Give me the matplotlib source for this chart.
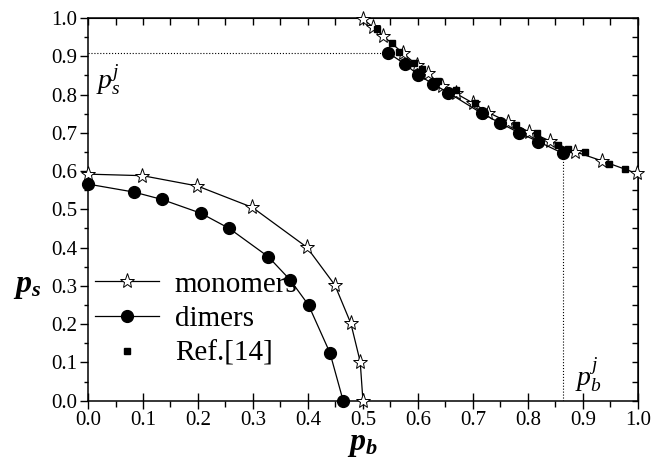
import numpy as np
import matplotlib.pyplot as plt
from matplotlib.lines import Line2D

plt.rcParams['font.family'] = ['Liberation Serif', 'DejaVu Serif']
plt.rcParams['mathtext.fontset'] = 'custom'
plt.rcParams['mathtext.rm'] = 'Liberation Serif'
plt.rcParams['mathtext.it'] = 'Liberation Serif:italic'
plt.rcParams['mathtext.bf'] = 'Liberation Serif:bold:italic'

# lower branch
mono_pb = [0.0, 0.099, 0.199, 0.299, 0.398, 0.449, 0.478, 0.495, 0.5]
mono_ps = [0.592, 0.588, 0.561, 0.505, 0.401, 0.302, 0.202, 0.102, 0.0]
dim_pb = [0.0, 0.084, 0.134, 0.205, 0.257, 0.328, 0.368, 0.401, 0.44, 0.464]
dim_ps = [0.566, 0.545, 0.526, 0.490, 0.450, 0.376, 0.315, 0.250, 0.125, 0.0]

# upper branch
mono_up_pb = [0.5, 0.518, 0.537, 0.573, 0.598, 0.619, 0.643, 0.669, 0.701,
              0.728, 0.763, 0.802, 0.840, 0.885, 0.934, 0.998]
mono_up_ps = [0.997, 0.977, 0.953, 0.908, 0.877, 0.855, 0.822, 0.803, 0.777,
              0.753, 0.729, 0.703, 0.679, 0.651, 0.627, 0.594]
dim_up_pb = [0.546, 0.576, 0.601, 0.627, 0.655, 0.716, 0.749, 0.784, 0.819, 0.864]
dim_up_ps = [0.909, 0.880, 0.851, 0.828, 0.805, 0.751, 0.726, 0.700, 0.677, 0.646]
ref_pb = [0.525, 0.552, 0.566, 0.592, 0.607, 0.637, 0.670, 0.704, 0.778,
          0.816, 0.855, 0.873, 0.904, 0.948, 0.976]
ref_ps = [0.970, 0.934, 0.912, 0.883, 0.866, 0.836, 0.812, 0.779, 0.720,
          0.699, 0.668, 0.657, 0.649, 0.619, 0.605]

ps_j = 0.909
pb_j = 0.864

fig = plt.figure(figsize=(6.53, 4.63), dpi=100)
ax = fig.add_axes([0.1348, 0.1346, 0.842, 0.8265])

star = dict(marker='*', ms=11, mfc='white', mec='black', mew=0.7, color='black', lw=0.9)
circ = dict(marker='o', ms=8.5, mfc='black', mec='black', color='black', lw=0.9)

ax.plot(mono_pb, mono_ps, **star, clip_on=False, zorder=3)
ax.plot(dim_pb, dim_ps, **circ, clip_on=False, zorder=3)
ax.plot(mono_up_pb, mono_up_ps, **star, clip_on=False, zorder=3)
ax.plot(dim_up_pb, dim_up_ps, **circ, zorder=3)
ax.plot(ref_pb, ref_ps, 's', ms=4.5, color='black', zorder=4)

ax.plot([0, dim_up_pb[0]], [ps_j, ps_j], ':', color='black', lw=0.8)
ax.plot([pb_j, pb_j], [0, dim_up_ps[-1]], ':', color='black', lw=0.8)

ax.text(0.015, 0.835, r'$p_s^j$', fontsize=20, ha='left', va='center')
ax.text(0.885, 0.065, r'$p_b^j$', fontsize=20, ha='left', va='center')

ax.set_xlim(0, 1)
ax.set_ylim(0, 1)
ax.set_xticks(np.arange(0, 1.01, 0.1))
ax.set_yticks(np.arange(0, 1.01, 0.1))
ax.set_xticks(np.arange(0.05, 1, 0.1), minor=True)
ax.set_yticks(np.arange(0.05, 1, 0.1), minor=True)
ax.xaxis.set_major_formatter(plt.FormatStrFormatter('%.1f'))
ax.yaxis.set_major_formatter(plt.FormatStrFormatter('%.1f'))
ax.tick_params(axis='x', which='major', direction='inout', length=11, width=1, labelsize=15, pad=2)
ax.tick_params(axis='x', which='minor', direction='out', length=4, width=1)
ax.tick_params(axis='y', which='major', direction='out', length=6, width=1, labelsize=15, pad=2)
ax.tick_params(axis='y', which='minor', direction='out', length=3, width=1)
for s in ax.spines.values():
    s.set_linewidth(1.1)

top = ax.secondary_xaxis('top')
top.set_xticks(np.arange(0, 1.01, 0.05))
top.tick_params(direction='in', length=5, width=1, labeltop=False)
right = ax.secondary_yaxis('right')
right.set_yticks(np.arange(0, 1.01, 0.05))
right.tick_params(direction='in', length=4, width=1, labelright=False)

ax.set_xlabel(r'$\mathbf{p_b}$', fontsize=23, labelpad=0)
ax.set_ylabel(r'$\mathbf{p_s}$', fontsize=23, rotation=0)
ax.yaxis.set_label_coords(-0.11, 0.26)

handles = [Line2D([], [], **star),
           Line2D([], [], **circ),
           Line2D([], [], marker='s', ms=4.5, color='black', ls='none')]
ax.legend(handles, ['monomers', 'dimers', 'Ref.[14]'], loc='lower left',
          bbox_to_anchor=(-0.025, 0.035), frameon=False, fontsize=21,
          handlelength=2.2, handletextpad=0.55, labelspacing=0.28, borderaxespad=0.3)

plt.savefig('out.png', dpi=100)
